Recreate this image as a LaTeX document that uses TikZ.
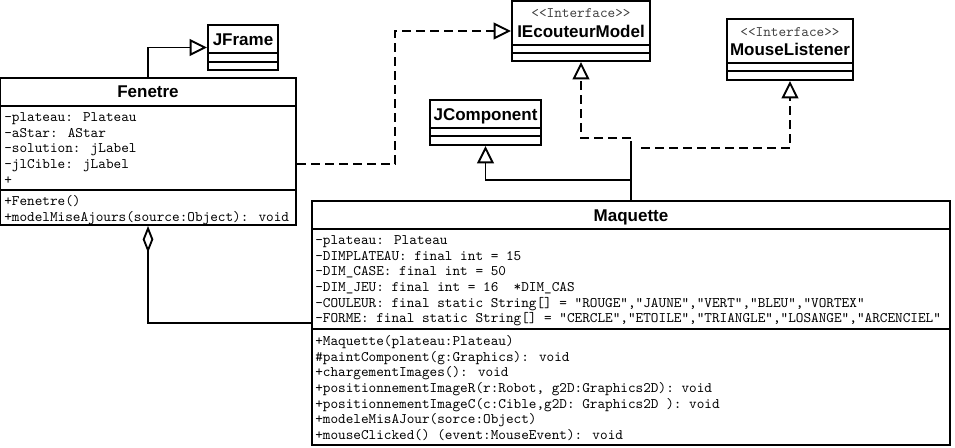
\documentclass[tikz,border=0pt]{standalone}
\usepackage{fontspec}
\setmainfont{Liberation Sans}
\usetikzlibrary{arrows.meta,fit}

\tikzset{
  classbox/.style={draw, line width=1.5pt, inner sep=0pt},
  classname/.style={font=\bfseries\fontsize{12.75}{14}\selectfont, anchor=base, inner sep=0pt},
  stereo/.style={font=\ttfamily\fontsize{10.9}{12}\selectfont, text=black!75, anchor=base, inner sep=0pt},
  members/.style={font=\ttfamily\fontsize{10.9}{11.8}\selectfont, align=left, anchor=north west, inner sep=0pt},
  sep/.style={line width=1.5pt},
  gen/.style={line width=1.4pt, -{Triangle[open, length=13pt, width=12.5pt]}},
  real/.style={gen, dash pattern=on 6.5pt off 4pt},
  aggr/.style={line width=1.4pt, {Diamond[open, length=20pt, width=8pt]}-},
}

\begin{document}
\begin{tikzpicture}[x=0.75pt, y=-0.75pt]
\useasboundingbox (0,0) rectangle (955,448);

% classes
\node[classbox, fit={(208,25)(278,70)}] (jframe) {};
\node[classname] at (243,46) {JFrame};
\draw[sep] (208,53) -- (278,53);
\draw[sep] (208,62) -- (278,62);

\node[classbox, fit={(512,1)(650,61)}] (iecout) {};
\node[stereo] at (581,18) {<<Interface>>};
\node[classname] at (581,38) {IEcouteurModel};
\draw[sep] (512,45) -- (650,45);
\draw[sep] (512,53) -- (650,53);

\node[classbox, fit={(727,19)(853,80)}] (mouse) {};
\node[stereo] at (790,37) {<<Interface>>};
\node[classname] at (790,56) {MouseListener};
\draw[sep] (727,63) -- (853,63);
\draw[sep] (727,71) -- (853,71);

\node[classbox, fit={(430,100)(541,145)}] (jcomp) {};
\node[classname] at (485.5,121) {JComponent};
\draw[sep] (430,128) -- (541,128);
\draw[sep] (430,136) -- (541,136);

\node[classbox, fit={(0,78)(296,225)}] (fen) {};
\node[classname] at (148,98) {Fenetre};
\draw[sep] (0,106) -- (296,106);
\draw[sep] (0,190) -- (296,190);
\node[members] (fenattr) at (4,110) {\strut-plateau: Plateau\\-aStar: AStar\\-solution: jLabel\\-jlCible: jLabel\\+};
\node[members] (fenops) at (4,194) {\strut+Fenetre()\\+modelMiseAjours(source:Object): void};

\node[classbox, fit={(312,201)(950,445)}] (maq) {};
\node[classname] at (631,222) {Maquette};
\draw[sep] (312,229) -- (950,229);
\draw[sep] (312,329) -- (950,329);
\node[members] (maqattr) at (315,233) {\strut-plateau: Plateau\\-DIMPLATEAU: final int = 15\\-DIM\_CASE: final int = 50\\-DIM\_JEU: final int = 16 \ *DIM\_CAS\\-COULEUR: final static String[] = "ROUGE","JAUNE","VERT","BLEU","VORTEX"\\-FORME: final static String[] = "CERCLE","ETOILE","TRIANGLE","LOSANGE","ARCENCIEL"};
\node[members] (maqops) at (315,334) {\strut+Maquette(plateau:Plateau)\\\#paintComponent(g:Graphics): void\\+chargementImages(): void\\+positionnementImageR(r:Robot, g2D:Graphics2D): void\\+positionnementImageC(c:Cible,g2D: Graphics2D ): void\\+modeleMisAJour(sorce:Object)\\+mouseClicked() (event:MouseEvent): void};

% relations
\draw[gen] (fen.north) |- (jframe.west);
\draw[real] (fen.east |- 0,164) -| (395,31) -- (iecout.west);
\draw[line width=1.4pt] (maq.north) -- ++(0,-59) coordinate (hub);
\draw[gen] (maq.north) ++(0,-20) -| (jcomp.south);
\draw[real] (hub) ++(0,-3) -| (iecout.south);
\draw[real] (hub) ++(10,7) -| (mouse.south);
\draw[aggr] (fen.south) |- (maq.west);
\end{tikzpicture}
\end{document}
